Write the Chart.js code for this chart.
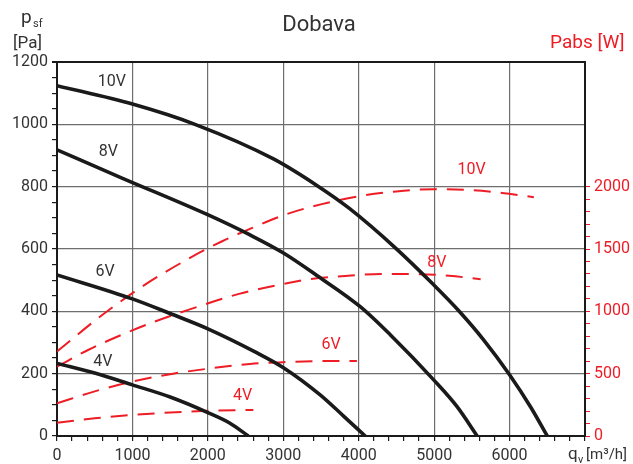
<!DOCTYPE html>
<html>
<head>
<meta charset="utf-8">
<script src="https://cdn.jsdelivr.net/npm/chart.js@4.4.1/dist/chart.umd.min.js"></script>
<style>
html, body { margin: 0; padding: 0; background: #fff; }
</style>
</head>
<body>
<canvas id="fan_chart" width="633" height="464"></canvas>
<script>
// pressure curves p_sf [Pa] vs q_v [m3/h]
var q10 = [0, 1000, 1829, 2870, 3445, 3872, 4507, 4994, 5326, 5658, 6002, 6277, 6500];
var p10 = [1124, 1065, 1000, 889, 804, 731, 599, 485, 402, 308, 196, 94, 0];
var q8 = [0, 877, 1997, 2559, 3002, 3445, 4020, 4418, 4994, 5304, 5570];
var p8 = [918, 826, 710, 645, 587, 515, 415, 325, 180, 94, 0];
var q6 = [0, 1000, 1500, 2000, 2626, 2997, 3489, 3799, 4086];
var p6 = [517, 440, 393, 344, 270, 220, 132, 64, 0];
var q4 = [0, 500, 1000, 1500, 2000, 2293, 2537];
var p4 = [233, 202, 164, 125, 75, 41, 0];

// absorbed power Pabs [W] vs q_v
var wq10 = [0, 545, 1129, 1740, 2183, 2581, 3046, 3511, 3967, 4500, 5000, 5500, 5900, 6322];
var w10 = [677, 945, 1199, 1421, 1560, 1667, 1780, 1860, 1920, 1962, 1980, 1972, 1950, 1915];
var wq8 = [0, 412, 855, 1297, 1740, 2413, 2870, 3357, 3822, 4300, 4800, 5200, 5617];
var w8 = [556, 690, 811, 918, 1012, 1140, 1204, 1258, 1284, 1300, 1298, 1285, 1258];
var wq6 = [0, 500, 1000, 1519, 2005, 2559, 2997, 3489, 3976];
var w6 = [262, 358, 436, 498, 540, 578, 592, 601, 602];
var wq4 = [0, 500, 1000, 2000, 2603];
var w4 = [107, 142, 169, 202, 209];

// curve labels: text, axis, q, value
var curveLabels = [
    ['10V', 'y', 726, 1137], ['8V', 'y', 680, 910], ['6V', 'y', 637, 525], ['4V', 'y', 607, 239],
    ['10V', 'y1', 5498, 2135], ['8V', 'y1', 5036, 1389], ['6V', 'y1', 3635, 727], ['4V', 'y1', 2459, 317]
];

var RED = '#ee1c25';
var INK = '#333333';
var GRID = '#6e6e6e';
var FONT = 'Roboto, "DejaVu Sans", sans-serif';

function pts(xs, ys) {
    return xs.map(function (x, i) { return { x: x, y: ys[i] }; });
}

function pressure(xs, ys) {
    return {
        data: pts(xs, ys), yAxisID: 'y', borderColor: '#1a1a1a', borderWidth: 3.6,
        pointRadius: 0, cubicInterpolationMode: 'monotone', order: 1
    };
}
function power(xs, ys) {
    return {
        data: pts(xs, ys), yAxisID: 'y1', borderColor: RED, borderWidth: 2,
        borderDash: [17, 10], pointRadius: 0, cubicInterpolationMode: 'monotone', order: 2
    };
}

var textPlugin = {
    id: 'texts',
    afterDraw: function (chart) {
        var c = chart.ctx, sx = chart.scales.x;
        c.save();
        c.textBaseline = 'middle';
        c.textAlign = 'center';
        c.font = '16px ' + FONT;
        curveLabels.forEach(function (l) {
            c.fillStyle = l[1] === 'y' ? INK : RED;
            c.fillText(l[0], sx.getPixelForValue(l[2]), chart.scales[l[1]].getPixelForValue(l[3]));
        });

        c.textBaseline = 'alphabetic';
        // title
        c.fillStyle = INK;
        c.font = '22px ' + FONT;
        c.fillText('Dobava', 319, 31);

        // left axis title
        c.textAlign = 'left';
        c.font = '19px ' + FONT;
        c.fillText('p', 21, 23);
        c.font = '11px ' + FONT;
        c.fillText('sf', 33, 27);
        c.font = '17px ' + FONT;
        c.fillText('[Pa]', 13, 48);

        // right axis title
        c.fillStyle = RED;
        c.font = '19px ' + FONT;
        c.fillText('Pabs [W]', 550, 48);

        // x axis title
        c.fillStyle = INK;
        c.font = '17px ' + FONT;
        c.fillText('q', 568, 459);
        c.font = '11px ' + FONT;
        c.fillText('v', 578, 463);
        c.font = '15px ' + FONT;
        c.fillText('[m\u00b3/h]', 586, 459);
        c.restore();
    }
};

new Chart(document.getElementById('fan_chart').getContext('2d'), {
    type: 'line',
    data: {
        datasets: [
            pressure(q10, p10), pressure(q8, p8), pressure(q6, p6), pressure(q4, p4),
            power(wq10, w10), power(wq8, w8), power(wq6, w6), power(wq4, w4)
        ]
    },
    options: {
        responsive: false,
        animation: false,
        devicePixelRatio: 1,
        layout: { padding: { top: 62, left: 0, right: 0, bottom: 0 } },
        plugins: { legend: { display: false }, tooltip: { enabled: false }, title: { display: false } },
        scales: {
            x: {
                type: 'linear', min: 0, max: 7000,
                afterFit: function (s) { s.height = 28; },
                border: { display: true, color: '#1a1a1a', width: 2 },
                grid: {
                    color: function (ctx) { return ctx.tick && ctx.tick.value % 1000 === 0 ? GRID : 'transparent'; },
                    lineWidth: 1.2, tickColor: '#1a1a1a', tickLength: 5
                },
                ticks: {
                    stepSize: 200, autoSkip: false, maxRotation: 0, padding: 5, color: INK,
                    font: { family: FONT, size: 16 },
                    callback: function (v) { return (v % 1000 === 0 && v < 7000) ? String(v) : ''; }
                }
            },
            y: {
                type: 'linear', position: 'left', min: 0, max: 1200,
                afterFit: function (s) { s.width = 57; },
                border: { display: true, color: '#1a1a1a', width: 2 },
                grid: {
                    color: function (ctx) {
                        if (!ctx.tick) return 'transparent';
                        if (ctx.tick.value === 1200) return '#1a1a1a';
                        return ctx.tick.value % 200 === 0 ? GRID : 'transparent';
                    },
                    lineWidth: function (ctx) { return ctx.tick && ctx.tick.value === 1200 ? 2 : 1.2; },
                    tickColor: '#1a1a1a', tickLength: 5
                },
                ticks: {
                    stepSize: 50, autoSkip: false, padding: 4, color: INK,
                    font: { family: FONT, size: 16 },
                    callback: function (v) { return v % 200 === 0 ? String(v) : ''; }
                }
            },
            y1: {
                type: 'linear', position: 'right', min: 0, max: 3000,
                afterFit: function (s) { s.width = 48; },
                border: { display: true, color: '#1a1a1a', width: 2 },
                grid: {
                    drawOnChartArea: false,
                    tickColor: function (ctx) { return ctx.tick && ctx.tick.value <= 2000 ? RED : 'transparent'; },
                    tickLength: 5
                },
                ticks: {
                    stepSize: 100, autoSkip: false, padding: 4, color: RED,
                    font: { family: FONT, size: 16 },
                    callback: function (v) { return (v % 500 === 0 && v <= 2000) ? String(v) : ''; }
                }
            }
        }
    },
    plugins: [textPlugin]
});
</script>
</body>
</html>
